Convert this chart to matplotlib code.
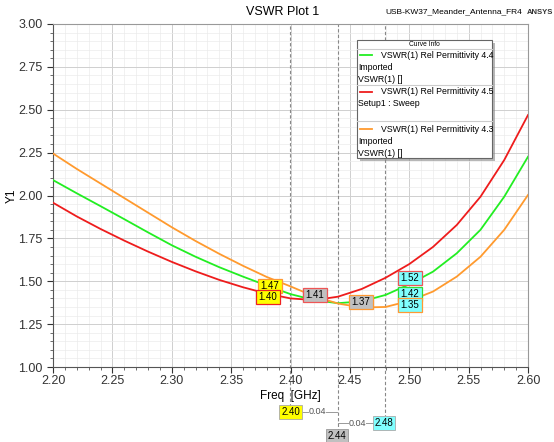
import matplotlib.pyplot as plt
from matplotlib.lines import Line2D
from matplotlib.patches import Rectangle
from matplotlib.ticker import MultipleLocator

plt.rcParams['font.family'] = ['Liberation Sans', 'DejaVu Sans']

# curve data
freq = [2.20, 2.22, 2.24, 2.26, 2.28, 2.30, 2.32, 2.34, 2.36, 2.38, 2.40,
        2.42, 2.44, 2.46, 2.48, 2.50, 2.52, 2.54, 2.56, 2.58, 2.60]
vswr_44 = [2.09, 2.013, 1.938, 1.862, 1.785, 1.71, 1.643, 1.582, 1.527, 1.475, 1.425,
           1.39, 1.372, 1.383, 1.42, 1.482, 1.556, 1.663, 1.80, 1.993, 2.226]
vswr_45 = [1.958, 1.878, 1.805, 1.737, 1.673, 1.613, 1.558, 1.508, 1.465, 1.428, 1.40,
           1.39, 1.41, 1.455, 1.52, 1.60, 1.70, 1.828, 1.993, 2.207, 2.469]
vswr_43 = [2.245, 2.155, 2.07, 1.985, 1.90, 1.815, 1.735, 1.66, 1.59, 1.525, 1.47,
           1.412, 1.37, 1.347, 1.35, 1.385, 1.44, 1.527, 1.643, 1.80, 2.003]

marker_freqs = [2.40, 2.44, 2.48]
# (freq, label, box colour, edge colour)
marker_labels = [
    (2.40, "1.47", "#ffff00", "#ff9933"),
    (2.40, "1.40", "#ffff00", "#ee2222"),
    (2.44, "1.41", "#c0c0c0", "#ee5555"),
    (2.44, "1.37", "#c0c0c0", "#ff9933"),
    (2.48, "1.52", "#80ffff", "#ee5555"),
    (2.48, "1.42", "#80ffff", "#33dd33"),
    (2.48, "1.35", "#80ffff", "#ff9933"),
]

W, H = 554, 442
green, red, orange = "#22ee22", "#ee1c1c", "#ff9a2e"


def fx(px):
    return px / W


def fy(py):
    return 1 - py / H


fig = plt.figure(figsize=(W / 100, H / 100), dpi=100)
ax = fig.add_axes([fx(53), fy(367), fx(528) - fx(53), fy(24) - fy(367)])

ax.plot(freq, vswr_44, color=green, lw=1.3, zorder=3)
ax.plot(freq, vswr_45, color=red, lw=1.3, zorder=3)
ax.plot(freq, vswr_43, color=orange, lw=1.3, zorder=3)

ax.set_xlim(2.20, 2.60)
ax.set_ylim(1.0, 3.0)
ax.xaxis.set_major_locator(MultipleLocator(0.05))
ax.xaxis.set_minor_locator(MultipleLocator(0.01))
ax.yaxis.set_major_locator(MultipleLocator(0.25))
ax.yaxis.set_minor_locator(MultipleLocator(0.05))
ax.xaxis.set_major_formatter(plt.FormatStrFormatter("%.2f"))
ax.yaxis.set_major_formatter(plt.FormatStrFormatter("%.2f"))
ax.grid(which="major", color="#cfcfcf", lw=0.7)
ax.grid(which="minor", color="#ebebeb", lw=0.5)
ax.set_axisbelow(True)
ax.tick_params(labelsize=9, colors="#333333", length=4, width=0.8)
ax.tick_params(which="minor", length=2, width=0.6, colors="#555555")
ax.tick_params(axis="x", pad=2)
for s in ["left", "bottom"]:
    ax.spines[s].set_color("#555555")
for s in ["top", "right"]:
    ax.spines[s].set_color("#999999")
ax.set_xlabel("Freq  [GHz]", fontsize=8.5, labelpad=2)
ax.set_ylabel("Y1", fontsize=8.5, labelpad=0.5)

fig.text(fx(283), fy(12), "VSWR Plot 1", fontsize=9, ha="center", va="center")
fig.text(fx(522), fy(12), "USB-KW37_Meander_Antenna_FR4", fontsize=6,
         ha="right", va="center")
fig.text(fx(553), fy(12), "ANSYS", fontsize=5.5, fontweight="bold",
         ha="right", va="center", color="#333333")

# marker lines, running down below the axis
depth = {2.40: 407, 2.44: 432, 2.48: 418}
for m in marker_freqs:
    ymin = (367 - depth[m]) / 343
    ax.axvline(m, ymin=ymin, ymax=1, color="#888888", lw=0.8, ls=(0, (3, 2)),
               clip_on=False, zorder=2)

# marker value boxes, placed in pixel space
box_pos = {
    "1.47": (270, 286), "1.40": (268, 297), "1.41": (315, 295), "1.37": (361, 302),
    "1.52": (410, 278), "1.42": (410, 294), "1.35": (410, 305),
}
for f, lab, fc, ec in marker_labels:
    px, py = box_pos[lab]
    fig.text(fx(px), fy(py), lab, fontsize=7, ha="center", va="center",
             zorder=6, bbox=dict(boxstyle="square,pad=0.25", fc=fc, ec=ec, lw=0.9))

# marker frequency boxes and deltas below the axis
fig.text(fx(290.5), fy(412), "2.40", fontsize=7, ha="center", va="center",
         bbox=dict(boxstyle="square,pad=0.2", fc="#ffff00", ec="#aaaaaa", lw=0.6))
fig.text(fx(337), fy(436), "2.44", fontsize=7, ha="center", va="center",
         bbox=dict(boxstyle="square,pad=0.2", fc="#c0c0c0", ec="#999999", lw=0.6))
fig.text(fx(384), fy(423), "2.48", fontsize=7, ha="center", va="center",
         bbox=dict(boxstyle="square,pad=0.2", fc="#80ffff", ec="#aaaaaa", lw=0.6))
for x0, x1, tx, y in [(300, 337, 317, 412), (338, 375, 357, 423)]:
    for a, b in [(x0, tx - 9), (tx + 9, x1)]:
        fig.add_artist(Line2D([fx(a), fx(b)], [fy(y), fy(y)], color="#999999",
                              lw=0.7, transform=fig.transFigure))
    fig.text(fx(tx), fy(y), "0.04", fontsize=6.5, ha="center", va="center",
             color="#555555")

# curve info box
fig.add_artist(Rectangle((fx(360), fy(161)), fx(495) - fx(360), fy(43) - fy(161),
                         transform=fig.transFigure, fc="#888888", ec="none", alpha=0.6))
fig.add_artist(Rectangle((fx(357), fy(158)), fx(492) - fx(357), fy(40) - fy(158),
                         transform=fig.transFigure, fc="white", ec="#666666", lw=0.8))
fig.text(fx(424), fy(45), "Curve Info", fontsize=4.8, ha="center", va="center")
for y in [49, 85, 121]:
    fig.add_artist(Line2D([fx(357), fx(492)], [fy(y), fy(y)], color="#cccccc",
                          lw=0.8, transform=fig.transFigure))
entries = [
    (55, green, "VSWR(1) Rel Permittivity 4.4", ["Imported", "VSWR(1) []"]),
    (92, red, "VSWR(1) Rel Permittivity 4.5", ["Setup1 : Sweep"]),
    (129, orange, "VSWR(1) Rel Permittivity 4.3", ["Imported", "VSWR(1) []"]),
]
for y, c, name, extra in entries:
    fig.add_artist(Line2D([fx(360), fx(372)], [fy(y), fy(y)], color=c, lw=1.3,
                          transform=fig.transFigure))
    fig.text(fx(381), fy(y), name, fontsize=6.3, ha="left", va="center")
    for i, t in enumerate(extra):
        fig.text(fx(358), fy(y + 12 * (i + 1)), t, fontsize=6.3, ha="left",
                 va="center")

fig.savefig("out.png", dpi=100)
